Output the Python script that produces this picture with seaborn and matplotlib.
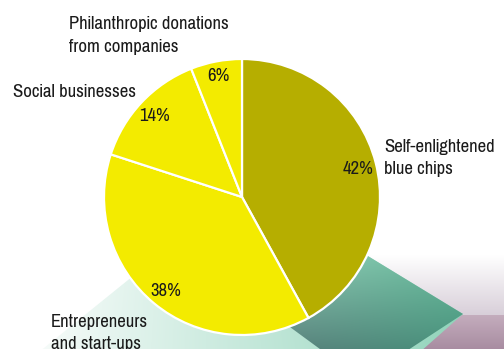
import numpy as np
import matplotlib
matplotlib.use("Agg")
import matplotlib.pyplot as plt
from matplotlib import font_manager
from matplotlib.font_manager import FontProperties
from matplotlib.patches import Polygon
from matplotlib.colors import to_rgb
import seaborn as sns

# Shares of the four kinds of corporate social engagement (clockwise from 12 o'clock)
categories = [
    "Self-enlightened\nblue chips",
    "Entrepreneurs\nand start-ups",
    "Social businesses",
    "Philanthropic donations\nfrom companies",
]
shares = [42, 38, 14, 6]
slice_colors = ["#b6ae00", "#f3eb00", "#f3eb00", "#f3eb00"]

# Layout: label anchors (pixel column, pixel row of the last line's baseline)
# and radial distance of each percentage label as a fraction of the radius
label_anchor = [(384, 174), (51, 349.5), (13, 97), (69, 51.7)]
pct_dist = [0.87, 0.87, 0.87, 0.905]
line_step_px = 22.3          # baseline-to-baseline distance of two-line labels
ref_width_px = 123           # rendered width of "Social businesses"

sns.set_theme(style="white")
installed = {f.name for f in font_manager.fontManager.ttflist}
candidates = ["Arial Narrow", "Liberation Sans Narrow", "Pragati Narrow",
              "PT Sans Narrow", "Roboto Condensed", "Liberation Sans"]
family = next(c for c in candidates if c in installed or c == "Liberation Sans")
plt.rcParams["font.family"] = [family, "DejaVu Sans"]

W, H = 504, 349
fig = plt.figure(figsize=(W / 100, H / 100), dpi=100)
fig.patch.set_facecolor("white")
ax = fig.add_axes([0, 0, 1, 1])
renderer = fig.canvas.get_renderer()

# Size the type so that the narrow sans face fills the same width
probe = ax.text(0, 0, "Social businesses", fontsize=13)
fsize = 13 * ref_width_px / probe.get_window_extent(renderer).width
probe.remove()
fp = FontProperties(family=[family, "DejaVu Sans"], size=fsize)
_, lp_h, lp_d = renderer.get_text_width_height_descent("lp", fp, ismath=False)
spacing = (line_step_px - lp_d) / (lp_h - lp_d)


def py(y):
    """Convert a top-down pixel row into the axis' upward y coordinate."""
    return H - y


def gradient_shape(verts, extent, corners, z=0):
    """Fill a polygon with a bilinear colour gradient (tl, tr, bl, br)."""
    x0, x1, yt, yb = extent
    n = 256
    u = np.linspace(0, 1, n)[None, :, None]
    v = np.linspace(0, 1, n)[:, None, None]
    tl, tr, bl, br = [np.array(to_rgb(c)) for c in corners]
    img = (1 - v) * ((1 - u) * tl + u * tr) + v * ((1 - u) * bl + u * br)
    poly = Polygon([(x, py(y)) for x, y in verts], closed=True,
                   facecolor="none", edgecolor="none")
    ax.add_patch(poly)
    im = ax.imshow(img, extent=(x0, x1, py(yb), py(yt)), origin="upper",
                   zorder=z, interpolation="bilinear", aspect="auto")
    im.set_clip_path(poly)


# Decorative background shapes
gradient_shape([(300, 255), (504, 255), (504, 315), (300, 315)],
               (300, 504, 255, 315),
               ["#ffffff", "#ffffff", "#d8cfd9", "#d8cfd9"], z=0)
gradient_shape([(360, 315), (504, 315), (504, 349), (360, 349)],
               (360, 504, 315, 349),
               ["#c4adbd", "#c4adbd", "#a88ca1", "#a88ca1"], z=0.1)
gradient_shape([(248, 183), (39, 352), (420, 352), (463, 314)],
               (39, 463, 183, 352),
               ["#ffffff", "#86cdb2", "#f6fbf9", "#93d5bc"], z=0.2)
gradient_shape([(248, 183), (463, 314), (405, 352), (324, 352), (230, 283)],
               (280, 463, 250, 352),
               ["#95d0ba", "#6cc0a0", "#587f7b", "#46907a"], z=0.3)

# Pie
cx, cy, r = 242, py(197), 138
wedges, _ = ax.pie(
    shares, colors=slice_colors, startangle=90, counterclock=False,
    center=(cx, cy), radius=r, frame=True,
    wedgeprops=dict(edgecolor="white", linewidth=1.6, zorder=2),
)

for w, share, d in zip(wedges, shares, pct_dist):
    mid = np.deg2rad((w.theta1 + w.theta2) / 2)
    ax.text(cx + d * r * np.cos(mid), cy + d * r * np.sin(mid), f"{share}%",
            ha="center", va="center_baseline", fontsize=fsize,
            color="#1a1a1a", zorder=4)

for name, (x, y) in zip(categories, label_anchor):
    ax.text(x, py(y), name, ha="left", va="baseline", fontsize=fsize,
            color="#1a1a1a", linespacing=spacing, zorder=4)

ax.set_xlim(0, W)
ax.set_ylim(0, H)
ax.set_aspect("auto")
ax.axis("off")

fig.savefig("out.png", dpi=100, facecolor="white")
